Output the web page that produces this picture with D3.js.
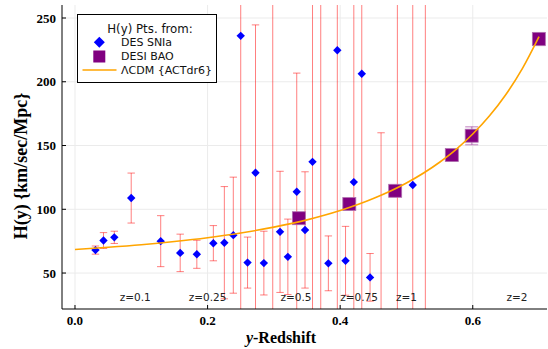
<!DOCTYPE html>
<html>
<head>
<meta charset="utf-8">
<script src="https://cdn.jsdelivr.net/npm/d3@7/dist/d3.min.js"></script>
<style>
body { margin: 0; background: #fff; }
.tick-label { font-family: "Liberation Serif", serif; font-weight: bold; font-size: 13px; }
.axis-title { font-family: "Liberation Serif", serif; font-weight: bold; font-size: 16px; }
.small { font-family: "DejaVu Sans", sans-serif; font-size: 10.5px; fill: #222; }
.leg { font-family: "DejaVu Sans", sans-serif; font-size: 11px; fill: #111; }
</style>
</head>
<body>
<svg id="chart"></svg>
<script>
// DES SNIa points: y-redshift, H(y), symmetric error
const snY = [0.0309, 0.0430, 0.0593, 0.0848, 0.1293, 0.1587, 0.1838, 0.2087, 0.2253, 0.2388,
	0.2500, 0.2603, 0.2723, 0.2849, 0.2983, 0.3093, 0.3211, 0.3345, 0.3470, 0.3583,
	0.3707, 0.3822, 0.3957, 0.4081, 0.4206, 0.4326, 0.4451, 0.4617, 0.4863, 0.5095, 0.5285];
const snH = [68.0, 75.5, 78.0, 108.8, 75.0, 65.8, 64.7, 73.4, 73.8, 79.7,
	236.0, 58.2, 128.6, 57.8, 290.0, 82.3, 62.7, 113.8, 83.8, 137.2,
	300.0, 57.6, 224.7, 59.6, 121.3, 206.3, 46.6, 10.0, 310.0, 119.0, 295.0];
const snErr = [3.2, 6.2, 4.8, 19.6, 20.0, 14.7, 11.0, 13.8, 44.0, 45.5,
	240.0, 20.0, 116.0, 25.0, 290.0, 47.5, 29.6, 93.0, 45.6, 200.0,
	300.0, 21.5, 250.0, 27.0, 200.0, 250.0, 18.7, 150.0, 300.0, 250.0, 290.0];

// DESI BAO points
const baoY = [0.3377, 0.4138, 0.4830, 0.5684, 0.5984, 0.6997];
const baoH = [93.0, 104.1, 114.5, 142.5, 157.7, 233.5];
const baoErr = [2.0, 2.5, 3.0, 4.0, 7.0, 5.0];

// LCDM {ACTdr6} curve
const lcdmY = [0, 0.05, 0.10, 0.15, 0.20, 0.25, 0.30, 0.35, 0.40, 0.45, 0.50, 0.55, 0.575, 0.60, 0.625, 0.65, 0.675, 0.70];
const lcdmH = [68.5, 70.2, 72.2, 74.7, 77.7, 81.4, 86.0, 91.7, 99.0, 108.4, 120.6, 136.9, 147.0, 159.0, 173.1, 190.0, 210.5, 235.4];

// redshift annotations
const zLabels = ['z=0.1', 'z=0.25', 'z=0.5', 'z=0.75', 'z=1', 'z=2'];
const zValues = [0.1, 0.25, 0.5, 0.75, 1, 2];

const xTicks = [0.0, 0.2, 0.4, 0.6];
const yTicks = [50, 100, 150, 200, 250];

function makeChart() {
	let w = 548;
	let h = 349;
	let left = 62, right = 547, top = 5, bottom = 309;

	let chart = d3.select('#chart')
		.attr('width', w)
		.attr('height', h);

	let x = d3.scaleLinear().domain([-0.0196, 0.712]).range([left, right]);
	let y = d3.scaleLinear().domain([21.8, 260.2]).range([bottom, top]);

	chart.append('defs').append('clipPath').attr('id', 'plotclip')
		.append('rect')
		.attr('x', left).attr('y', top)
		.attr('width', right - left).attr('height', bottom - top);

	// grid
	chart.append('g').selectAll('line')
		.data(xTicks)
		.enter()
		.append('line')
		.attr('x1', d => x(d)).attr('x2', d => x(d))
		.attr('y1', top).attr('y2', bottom)
		.style('stroke', '#ebebeb');
	chart.append('g').selectAll('line')
		.data(yTicks)
		.enter()
		.append('line')
		.attr('x1', left).attr('x2', right)
		.attr('y1', d => y(d)).attr('y2', d => y(d))
		.style('stroke', '#ebebeb');

	let plot = chart.append('g').attr('clip-path', 'url(#plotclip)');

	// SNIa error bars
	let snIdx = d3.range(snY.length);
	let eb = plot.append('g')
		.style('stroke', '#f00')
		.style('stroke-opacity', 0.5)
		.style('stroke-width', 1);
	eb.selectAll('line.bar')
		.data(snIdx)
		.enter()
		.append('line')
		.attr('x1', i => x(snY[i])).attr('x2', i => x(snY[i]))
		.attr('y1', i => y(snH[i] + snErr[i])).attr('y2', i => y(snH[i] - snErr[i]));
	[1, -1].forEach(s => {
		eb.selectAll('line.cap' + s)
			.data(snIdx)
			.enter()
			.append('line')
			.attr('x1', i => x(snY[i]) - 3.7).attr('x2', i => x(snY[i]) + 3.7)
			.attr('y1', i => y(snH[i] + s * snErr[i])).attr('y2', i => y(snH[i] + s * snErr[i]));
	});

	// BAO error bars
	let baoIdx = d3.range(baoY.length);
	let bb = plot.append('g')
		.style('stroke', 'purple')
		.style('stroke-opacity', 0.35)
		.style('stroke-width', 1.5);
	bb.selectAll('line.bar')
		.data(baoIdx)
		.enter()
		.append('line')
		.attr('x1', i => x(baoY[i])).attr('x2', i => x(baoY[i]))
		.attr('y1', i => y(baoH[i] + baoErr[i])).attr('y2', i => y(baoH[i] - baoErr[i]));
	[1, -1].forEach(s => {
		bb.selectAll('line.cap' + s)
			.data(baoIdx)
			.enter()
			.append('line')
			.attr('x1', i => x(baoY[i]) - 6.5).attr('x2', i => x(baoY[i]) + 6.5)
			.attr('y1', i => y(baoH[i] + s * baoErr[i])).attr('y2', i => y(baoH[i] + s * baoErr[i]));
	});

	// SNIa diamonds
	plot.selectAll('path.sn')
		.data(snIdx)
		.enter()
		.append('path')
		.attr('d', i => {
			let cx = x(snY[i]), cy = y(snH[i]), r = 4.2;
			return `M${cx},${cy - r}L${cx + r},${cy}L${cx},${cy + r}L${cx - r},${cy}Z`;
		})
		.style('fill', 'blue');

	// BAO squares
	plot.selectAll('rect.bao')
		.data(baoIdx)
		.enter()
		.append('rect')
		.attr('x', i => x(baoY[i]) - 6.5)
		.attr('y', i => y(baoH[i]) - 6.5)
		.attr('width', 13).attr('height', 13)
		.style('fill', 'purple')
		.style('stroke', '#b070b0')
		.style('stroke-width', 0.8);

	// LCDM curve
	let line = d3.line()
		.x(i => x(lcdmY[i]))
		.y(i => y(lcdmH[i]))
		.curve(d3.curveMonotoneX);
	plot.append('path')
		.datum(d3.range(lcdmY.length))
		.attr('d', line)
		.style('fill', 'none')
		.style('stroke', 'orange')
		.style('stroke-width', 1.6);

	// z annotations
	chart.selectAll('text.z')
		.data(zValues)
		.enter()
		.append('text')
		.classed('small', true)
		.attr('x', (d, i) => x(d / (1 + d)))
		.attr('y', y(31.2))
		.attr('dy', '0.35em')
		.style('text-anchor', 'middle')
		.text((d, i) => zLabels[i]);

	// axes lines
	chart.append('line')
		.attr('x1', left).attr('x2', left).attr('y1', top).attr('y2', bottom)
		.style('stroke', 'black');
	chart.append('line')
		.attr('x1', left).attr('x2', right).attr('y1', bottom).attr('y2', bottom)
		.style('stroke', 'black');

	// ticks (pointing inward)
	chart.selectAll('line.xt')
		.data(xTicks)
		.enter()
		.append('line')
		.attr('x1', d => x(d)).attr('x2', d => x(d))
		.attr('y1', bottom).attr('y2', bottom - 4)
		.style('stroke', 'black');
	chart.selectAll('line.yt')
		.data(yTicks)
		.enter()
		.append('line')
		.attr('x1', left).attr('x2', left + 4)
		.attr('y1', d => y(d)).attr('y2', d => y(d))
		.style('stroke', 'black');

	chart.selectAll('text.xl')
		.data(xTicks)
		.enter()
		.append('text')
		.classed('tick-label', true)
		.attr('x', d => x(d))
		.attr('y', 325)
		.style('text-anchor', 'middle')
		.text(d => d3.format('.1f')(d));
	chart.selectAll('text.yl')
		.data(yTicks)
		.enter()
		.append('text')
		.classed('tick-label', true)
		.attr('x', 56)
		.attr('y', d => y(d))
		.attr('dy', '0.35em')
		.style('text-anchor', 'end')
		.text(d => d);

	// axis titles
	let xt = chart.append('text')
		.classed('axis-title', true)
		.attr('x', 281)
		.attr('y', 343)
		.style('text-anchor', 'middle');
	xt.append('tspan').style('font-style', 'italic').text('y');
	xt.append('tspan').text('-Redshift');

	chart.append('text')
		.classed('axis-title', true)
		.style('font-size', '18px')
		.attr('transform', 'translate(27,166) rotate(-90)')
		.style('text-anchor', 'middle')
		.text('H(y) {km/sec/Mpc}');

	// legend
	let lg = chart.append('g');
	lg.append('rect')
		.attr('x', 77.5).attr('y', 14.5)
		.attr('width', 139).attr('height', 68)
		.style('fill', 'white')
		.style('stroke', 'black');
	lg.append('text').classed('leg', true)
		.style('font-size', '11.8px')
		.attr('x', 150).attr('y', 29).attr('dy', '0.35em')
		.style('text-anchor', 'middle')
		.text('H(y) Pts. from:');
	lg.append('path')
		.attr('d', 'M99.3,36.8L104.8,42.3L99.3,47.8L93.8,42.3Z')
		.style('fill', 'blue');
	lg.append('text').classed('leg', true)
		.attr('x', 121).attr('y', 42.3).attr('dy', '0.35em')
		.text('DES SNIa');
	lg.append('rect')
		.attr('x', 93.3).attr('y', 50.5).attr('width', 12).attr('height', 12)
		.style('fill', 'purple');
	lg.append('text').classed('leg', true)
		.attr('x', 121).attr('y', 56.5).attr('dy', '0.35em')
		.text('DESI BAO');
	lg.append('line')
		.attr('x1', 82.5).attr('x2', 116.5).attr('y1', 70).attr('y2', 70)
		.style('stroke', 'orange').style('stroke-width', 1.6);
	lg.append('text').classed('leg', true)
		.attr('x', 121).attr('y', 70).attr('dy', '0.35em')
		.text('ΛCDM {ACTdr6}');
}

window.onload = function () {
	makeChart();
}
</script>
</body>
</html>
